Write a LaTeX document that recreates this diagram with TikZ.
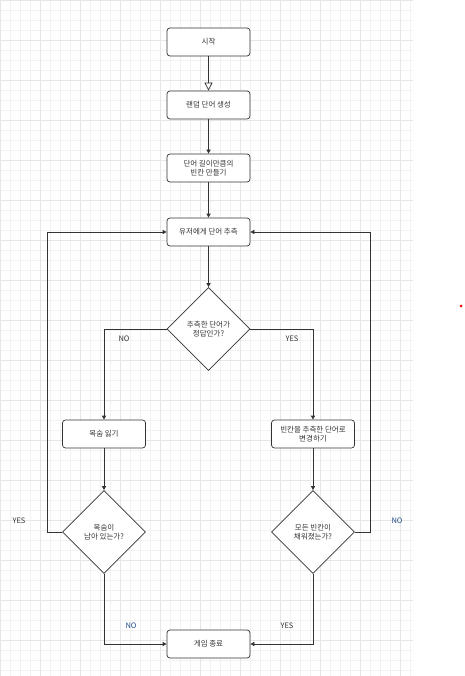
\documentclass[tikz,border=0pt]{standalone}
\usepackage{fontspec}
\setmainfont{Noto Sans CJK KR}
\usetikzlibrary{shapes.geometric,arrows.meta}
\definecolor{txt}{HTML}{333333}
\definecolor{lbl}{HTML}{1F4A86}
\definecolor{gridminor}{HTML}{F2F2F2}
\definecolor{gridmajor}{HTML}{E6E6E6}

\begin{document}
\begin{tikzpicture}[x=1pt,y=-1pt,
  box/.style={draw=black!80,line width=0.7pt,rounded corners=3pt,fill=white,
    minimum width=83pt,minimum height=28pt,inner sep=1pt,align=center,
    text=txt,font=\fontsize{7.5}{9.5}\selectfont},
  dia/.style={draw=black!80,line width=0.7pt,diamond,aspect=1,fill=white,
    minimum width=83pt,minimum height=83pt,inner sep=0pt,align=center,
    text=txt,font=\fontsize{7.5}{9.5}\selectfont},
  arr/.style={draw=black!80,line width=0.7pt,-{Triangle[length=4pt,width=4pt]}},
  openarr/.style={draw=black!80,line width=0.7pt,-{Triangle[open,length=8pt,width=8pt]}},
  lab/.style={text=txt,font=\fontsize{7.5}{9}\selectfont,inner sep=0pt}]
\useasboundingbox (0,0) rectangle (464,676);
\draw[gridminor,line width=0.5pt,step=10pt] (0,0) grid (413,676);
\draw[gridmajor,line width=0.5pt,step=40pt] (0,0) grid (413,676);
\node[box] (start) at (208.5,42) {시작};
\node[box] (rand) at (208.5,105) {랜덤 단어 생성};
\node[box] (blank) at (208.5,168) {단어 길이만큼의\\빈칸 만들기};
\node[box] (guess) at (208.5,232) {유저에게 단어 추측};
\node[dia] (check) at (208.5,329) {추측한 단어가\\정답인가?};
\node[box] (lose) at (104,434) {목숨 잃기};
\node[box] (fill) at (313,434) {빈칸을 추측한 단어로\\변경하기};
\node[dia] (life) at (104,532) {목숨이\\남아 있는가?};
\node[dia] (done) at (313,532) {모든 빈칸이\\채워졌는가?};
\node[box] (end) at (208.5,644) {게임 종료};
\coordinate (yesleft) at (47,532);
\coordinate (noright) at (370,532);
\draw[openarr] (start) -- (rand);
\draw[arr] (rand) -- (blank);
\draw[arr] (blank) -- (guess);
\draw[arr] (guess) -- (check);
\draw[arr] (check.west) -| (lose.north);
\draw[arr] (check.east) -| (fill.north);
\draw[arr] (lose) -- (life);
\draw[arr] (fill) -- (done);
\draw[arr] (life.west) -- (yesleft) |- (guess.west);
\draw[arr] (done.east) -- (noright) |- (guess.east);
\draw[arr] (life.south) |- (end.west);
\draw[arr] (done.south) |- (end.east);
\node[lab] (nocheck) at (124,339) {NO};
\node[lab] (yescheck) at (292,339) {YES};
\node[lab] (yeslife) at (19,521) {YES};
\node[lab,text=lbl] (nodone) at (397,521) {NO};
\node[lab,text=lbl] (nolife) at (131,626) {NO};
\node[lab] (yesdone) at (287,626) {YES};
\fill[red] (461,306) circle (1.5pt);
\end{tikzpicture}
\end{document}
